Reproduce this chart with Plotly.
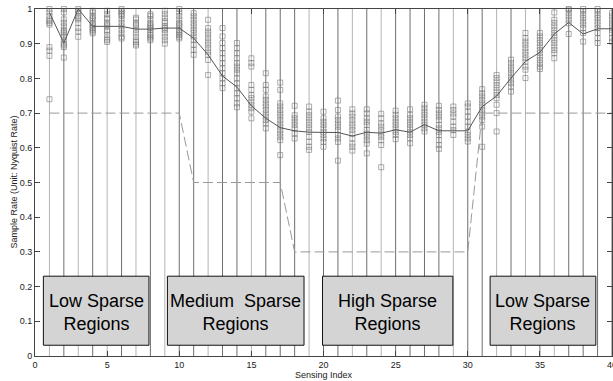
import plotly.graph_objects as go

# ---------------- data ----------------
sensing_index = list(range(1, 41))

s1 = [1.0, 0.99, 0.98, 0.97, 0.965, 0.96, 0.955, 0.89, 0.88, 0.865, 0.74]
s2 = [1.0, 0.99, 0.97, 0.96, 0.95, 0.94, 0.935, 0.93, 0.92, 0.91, 0.90, 0.895, 0.89, 0.86]
s3 = [1.0, 0.995, 0.99, 0.98, 0.975, 0.97, 0.96, 0.945, 0.935, 0.92]
s4 = [0.995, 0.99, 0.98, 0.975, 0.97, 0.96, 0.955, 0.95, 0.945, 0.94, 0.935, 0.93]
s5 = [0.995, 0.985, 0.975, 0.97, 0.96, 0.955, 0.95, 0.94, 0.935, 0.925, 0.915, 0.91, 0.905]
s6 = [1.0, 0.995, 0.99, 0.985, 0.98, 0.97, 0.96, 0.95, 0.94, 0.93, 0.92, 0.915]
s7 = [0.975, 0.97, 0.96, 0.955, 0.95, 0.94, 0.93, 0.92, 0.91, 0.905, 0.90, 0.895]
s8 = [0.985, 0.98, 0.97, 0.96, 0.955, 0.95, 0.945, 0.94, 0.93, 0.925, 0.92, 0.915, 0.91]
s9 = [0.995, 0.985, 0.975, 0.965, 0.96, 0.95, 0.945, 0.94, 0.93, 0.92, 0.91, 0.90]
s10 = [1.0, 0.99, 0.98, 0.97, 0.96, 0.955, 0.95, 0.94, 0.935, 0.93, 0.925, 0.92, 0.915]
s11 = [0.988, 0.979, 0.969, 0.959, 0.950, 0.940, 0.931, 0.921, 0.911, 0.897, 0.882, 0.868]
s12 = [0.969, 0.945, 0.935, 0.926, 0.916, 0.906, 0.897, 0.887, 0.877, 0.868, 0.853, 0.810]
s13 = [0.945, 0.921, 0.902, 0.887, 0.873, 0.858, 0.844, 0.829, 0.815, 0.800, 0.786, 0.772]
s14 = [0.902, 0.887, 0.873, 0.858, 0.844, 0.834, 0.825, 0.815, 0.800, 0.786, 0.772, 0.757, 0.743, 0.728, 0.717]
s15 = [0.858, 0.844, 0.834, 0.781, 0.767, 0.752, 0.743, 0.733, 0.723, 0.714, 0.704, 0.685]
s16 = [0.815, 0.781, 0.767, 0.748, 0.738, 0.728, 0.719, 0.709, 0.699, 0.690, 0.680, 0.670, 0.656]
s17 = [0.788, 0.767, 0.728, 0.719, 0.709, 0.699, 0.690, 0.680, 0.670, 0.661, 0.651, 0.641, 0.632, 0.622, 0.579]
s18 = [0.721, 0.694, 0.685, 0.675, 0.666, 0.656, 0.641, 0.627]
s19 = [0.719, 0.704, 0.694, 0.685, 0.675, 0.666, 0.656, 0.646, 0.632, 0.617, 0.603, 0.594]
s20 = [0.704, 0.685, 0.675, 0.666, 0.656, 0.646, 0.637, 0.627, 0.617, 0.603]
s21 = [0.736, 0.709, 0.690, 0.680, 0.670, 0.661, 0.651, 0.637, 0.627, 0.617, 0.563]
s22 = [0.711, 0.699, 0.690, 0.680, 0.670, 0.661, 0.651, 0.641, 0.627, 0.612, 0.603, 0.592]
s23 = [0.711, 0.699, 0.685, 0.675, 0.666, 0.651, 0.641, 0.632, 0.622, 0.612, 0.584]
s24 = [0.698, 0.685, 0.670, 0.661, 0.651, 0.641, 0.632, 0.622, 0.608, 0.544]
s25 = [0.707, 0.695, 0.685, 0.675, 0.666, 0.656, 0.646, 0.637, 0.625]
s26 = [0.711, 0.695, 0.685, 0.675, 0.666, 0.656, 0.646, 0.637, 0.627, 0.613]
s27 = [0.724, 0.714, 0.704, 0.695, 0.685, 0.675, 0.666, 0.656, 0.647]
s28 = [0.721, 0.709, 0.699, 0.690, 0.680, 0.666, 0.656, 0.646, 0.637, 0.622, 0.608, 0.597]
s29 = [0.719, 0.709, 0.699, 0.690, 0.675, 0.661, 0.651, 0.637]
s30 = [0.728, 0.719, 0.704, 0.690, 0.675, 0.661, 0.646, 0.637, 0.627, 0.618]
s31 = [0.769, 0.757, 0.748, 0.738, 0.728, 0.719, 0.709, 0.699, 0.690, 0.680, 0.661, 0.603]
s32 = [0.810, 0.801, 0.791, 0.781, 0.772, 0.762, 0.752, 0.743, 0.724, 0.700, 0.647]
s33 = [0.854, 0.844, 0.834, 0.825, 0.815, 0.805, 0.796, 0.786, 0.776, 0.762]
s34 = [0.931, 0.916, 0.906, 0.897, 0.887, 0.877, 0.868, 0.858, 0.848, 0.834, 0.825, 0.801]
s35 = [0.931, 0.921, 0.911, 0.902, 0.892, 0.882, 0.873, 0.863, 0.853, 0.844, 0.834, 0.827]
s36 = [0.990, 0.969, 0.960, 0.950, 0.940, 0.931, 0.921, 0.911, 0.902, 0.892, 0.882, 0.873, 0.858]
s37 = [1.0, 0.998, 0.988, 0.979, 0.969, 0.959, 0.928]
s38 = [1.0, 0.993, 0.983, 0.974, 0.964, 0.955, 0.945, 0.931, 0.906]
s39 = [1.0, 0.993, 0.983, 0.974, 0.964, 0.955, 0.945, 0.931, 0.916, 0.902]
s40 = [0.988, 0.979, 0.969, 0.959, 0.950, 0.940, 0.931, 0.916, 0.906]

samples = [s1, s2, s3, s4, s5, s6, s7, s8, s9, s10, s11, s12, s13, s14, s15, s16, s17, s18, s19, s20,
           s21, s22, s23, s24, s25, s26, s27, s28, s29, s30, s31, s32, s33, s34, s35, s36, s37, s38, s39, s40]

mean_rate = [0.99, 0.902, 1.0, 0.95, 0.95, 0.95, 0.942, 0.942, 0.945, 0.945,
             0.916, 0.868, 0.807, 0.775, 0.721, 0.685, 0.658, 0.649, 0.645, 0.645,
             0.644, 0.634, 0.645, 0.642, 0.652, 0.645, 0.667, 0.649, 0.649, 0.649,
             0.719, 0.749, 0.801, 0.849, 0.875, 0.928, 0.961, 0.928, 0.943, 0.943]

threshold_x = [1, 10, 11, 17, 18, 30, 31, 40]
threshold_y = [0.7, 0.7, 0.5, 0.5, 0.3, 0.3, 0.7, 0.7]

light_indices = [1, 3, 5, 7, 9, 12, 15, 19, 22, 24, 29, 32, 34, 36]

region_labels = ["Low Sparse<br>Regions", "Medium\u00a0 Sparse<br>Regions",
                 "High Sparse<br>Regions", "Low Sparse<br>Regions"]

x_ticks = [0, 5, 10, 15, 20, 25, 30, 35, 40]
y_ticks = [0, 0.1, 0.2, 0.3, 0.4, 0.5, 0.6, 0.7, 0.8, 0.9, 1.0]
y_tick_text = ["0", "0.1", "0.2", "0.3", "0.4", "0.5", "0.6", "0.7", "0.8", "0.9", "1"]

x_title = "Sensing Index"
y_title = "Sample Rate (Unit: Nyquist Rate)"

# box geometry (layout only)
region_boxes = [(0.58, 7.9), (9.18, 18.65), (19.93, 28.97), (31.55, 38.88)]
box_y0, box_y1 = 0.031, 0.230

FONT = "Liberation Sans, Arial, sans-serif"

fig = go.Figure()

# vertical lines at each index
for is_light, color in [(True, "#b4b4b4"), (False, "#6e6e6e")]:
    vx, vy = [], []
    for i in sensing_index:
        if (i in light_indices) == is_light:
            vx += [i, i, None]
            vy += [0, 1, None]
    fig.add_trace(go.Scatter(x=vx, y=vy, mode="lines",
                             line=dict(color=color, width=1), hoverinfo="skip",
                             showlegend=False))

# samples
mx, my = [], []
for i, vals in zip(sensing_index, samples):
    mx += [i] * len(vals)
    my += vals
fig.add_trace(go.Scatter(x=mx, y=my, mode="markers", cliponaxis=False,
                         marker=dict(symbol="square-open", size=5,
                                     color="rgba(120,120,120,0.6)",
                                     line=dict(width=1)),
                         showlegend=False))

# mean line
fig.add_trace(go.Scatter(x=sensing_index, y=mean_rate, mode="lines",
                         line=dict(color="#555555", width=1), showlegend=False))

# threshold dashed
fig.add_trace(go.Scatter(x=threshold_x, y=threshold_y, mode="lines",
                         line=dict(color="#999999", width=1, dash="10px,4px"),
                         showlegend=False))

shapes = []
annotations = []
for (bx0, bx1), label in zip(region_boxes, region_labels):
    shapes.append(dict(type="rect", xref="x", yref="y", x0=bx0, x1=bx1,
                       y0=box_y0, y1=box_y1, fillcolor="#d4d4d4",
                       line=dict(color="#111111", width=1), layer="above"))
    annotations.append(dict(x=(bx0 + bx1) / 2, y=(box_y0 + box_y1) / 2,
                            xref="x", yref="y", text=label, showarrow=False,
                            font=dict(family=FONT, size=18, color="#000000"),
                            yshift=-2))

annotations.append(dict(x=0.5, y=0, xref="paper", yref="paper", text=x_title,
                        showarrow=False, yshift=-19, yanchor="middle",
                        font=dict(family=FONT, size=9, color="#222222")))
annotations.append(dict(x=0, y=0.5, xref="paper", yref="paper", text=y_title,
                        showarrow=False, xshift=-22, xanchor="center",
                        textangle=-90,
                        font=dict(family=FONT, size=9, color="#222222")))

fig.update_layout(
    width=613, height=381, autosize=False,
    margin=dict(l=35, r=1, t=9, b=25, autoexpand=False),
    paper_bgcolor="white", plot_bgcolor="white",
    shapes=shapes, annotations=annotations,
    font=dict(family=FONT, size=9, color="#222222"),
    xaxis=dict(range=[0, 40], tickvals=x_ticks, ticks="inside", ticklen=5,
               tickcolor="#444", showline=True, linecolor="#444", linewidth=1,
               mirror="ticks", showgrid=False, zeroline=False, automargin=False,
               ticklabeloverflow="allow"),
    yaxis=dict(range=[0, 1], tickvals=y_ticks, ticktext=y_tick_text,
               ticks="inside", ticklen=5, tickcolor="#444", showline=True,
               linecolor="#444", linewidth=1, mirror="ticks", showgrid=False,
               zeroline=False, automargin=False),
)

fig.write_html(
    "out.html",
    config={"responsive": False, "displayModeBar": False},
    post_script="document.body.style.margin='0';document.body.style.padding='0';"
                "document.body.style.overflow='hidden';",
)
